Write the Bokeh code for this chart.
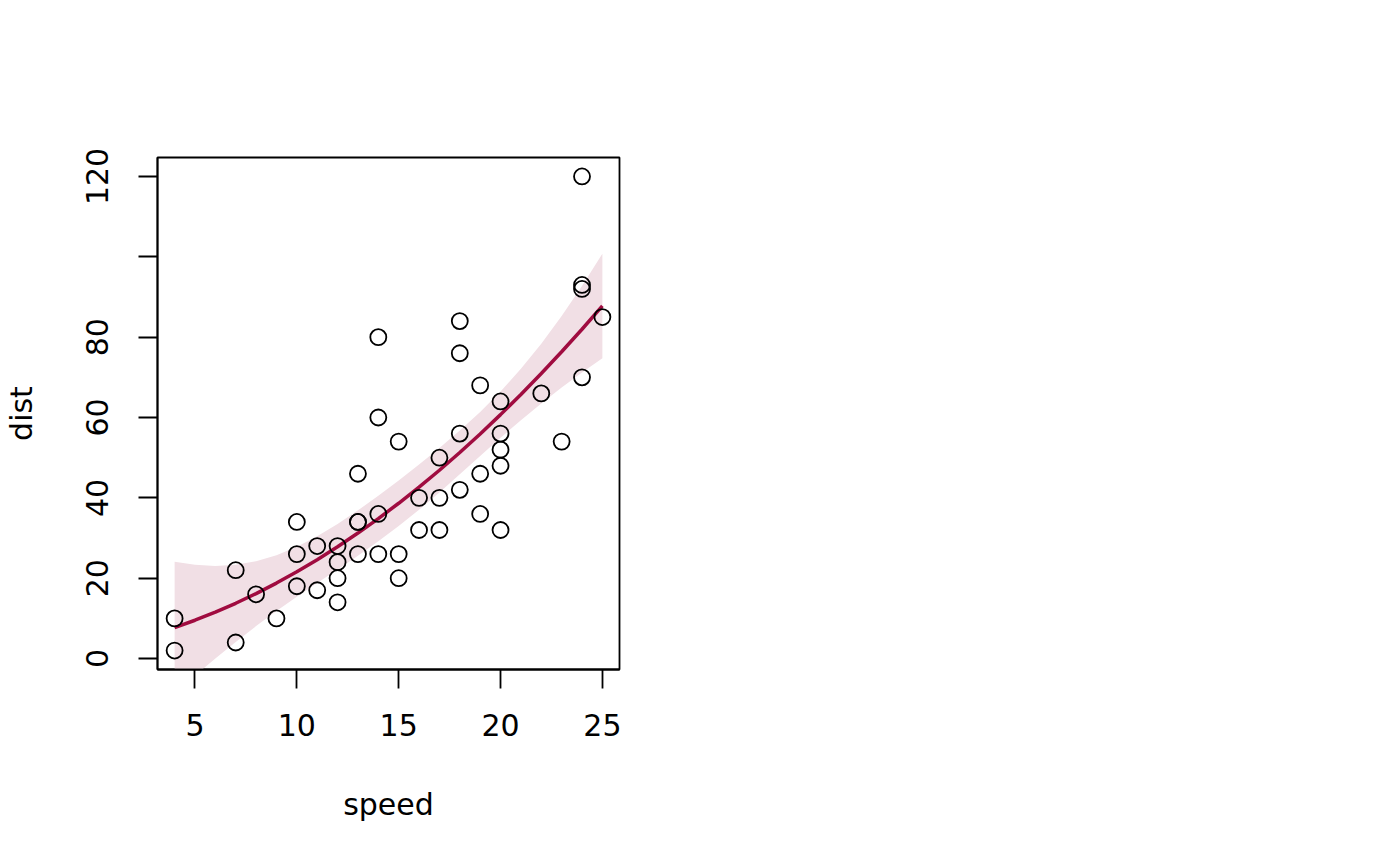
from bokeh.plotting import figure
from bokeh.models import Range1d, FixedTicker, ColumnDataSource
from bokeh.embed import file_html
from bokeh.resources import INLINE

# --- data (R "cars") ---
speed = [4, 4, 7, 7, 8, 9, 10, 10, 10, 11, 11, 12, 12, 12, 12, 13, 13, 13, 13,
         14, 14, 14, 14, 15, 15, 15, 16, 16, 17, 17, 17, 18, 18, 18, 18, 19, 19,
         19, 20, 20, 20, 20, 20, 22, 23, 24, 24, 24, 24, 25]
dist = [2, 10, 4, 22, 16, 10, 18, 26, 34, 17, 28, 14, 20, 24, 28, 26, 34, 34, 46,
        26, 36, 60, 80, 20, 26, 54, 32, 40, 32, 40, 50, 42, 56, 76, 84, 36, 46,
        68, 32, 48, 52, 56, 64, 66, 54, 70, 92, 93, 120, 85]

# fitted curve and confidence band
fit_x = [4, 5, 6, 7, 8, 9, 10, 11, 12, 13, 14, 15, 16, 17, 18, 19, 20, 21, 22, 23, 24, 25]
fit_y = [7.72, 9.54, 11.55, 13.76, 16.17, 18.79, 21.60, 24.61, 27.82, 31.24, 34.85,
         38.66, 42.67, 46.88, 51.30, 55.91, 60.72, 65.73, 70.94, 76.36, 81.97, 87.78]
fit_lo = [-8.67, -4.25, 0.03, 4.15, 8.09, 11.85, 15.39, 18.79, 22.15, 25.59, 29.18,
          33.00, 37.06, 41.36, 45.85, 50.42, 54.95, 59.33, 63.49, 67.45, 71.19, 74.78]
fit_hi = [24.11, 23.33, 23.07, 23.37, 24.25, 25.73, 27.81, 30.43, 33.49, 36.89, 40.52,
          44.32, 48.28, 52.40, 56.75, 61.40, 66.49, 72.13, 78.39, 85.27, 92.75, 100.78]

x_ticks = [5, 10, 15, 20, 25]
y_ticks = [0, 20, 40, 60, 80, 100, 120]
y_tick_labels = ["0", "20", "40", "60", "80", "", "120"]

FONT = "DejaVu Sans"
FS = "30px"

p = figure(frame_width=462, frame_height=512,
           min_border_left=156, min_border_top=157,
           min_border_right=300, min_border_bottom=180,
           x_range=Range1d(3.16, 25.84), y_range=Range1d(-2.72, 124.72),
           output_backend="svg", toolbar_location=None,
           background_fill_color="white", border_fill_color="white")
p.grid.visible = False
p.outline_line_color = "black"
p.outline_line_width = 1.8

band = ColumnDataSource(dict(x=fit_x, lo=fit_lo, hi=fit_hi, y=fit_y))
p.varea(x="x", y1="lo", y2="hi", source=band, fill_color="#F1DFE5")
p.line(x="x", y="y", source=band, line_color="#A00C40", line_width=3.5)
p.scatter(speed, dist, marker="circle", size=16, fill_color=None,
          line_color="black", line_width=1.8)

for ax in (p.xaxis[0], p.yaxis[0]):
    ax.major_tick_in = 0
    ax.major_tick_out = 19
    ax.minor_tick_line_color = None
    ax.major_tick_line_width = 1.8
    ax.axis_line_width = 1.8
    ax.axis_line_color = "black"
    ax.major_label_text_font = FONT
    ax.major_label_text_font_size = FS
    ax.major_label_text_color = "black"
    ax.axis_label_text_font = FONT
    ax.axis_label_text_font_size = FS
    ax.axis_label_text_font_style = "normal"
    ax.axis_label_text_color = "black"

p.xaxis.ticker = FixedTicker(ticks=x_ticks)
p.yaxis.ticker = FixedTicker(ticks=y_ticks)
p.yaxis.major_label_overrides = {t: l for t, l in zip(y_ticks, y_tick_labels)}
p.yaxis.major_label_orientation = "vertical"
p.xaxis.axis_label = "speed"
p.yaxis.axis_label = "dist"
p.xaxis.major_label_standoff = 25
p.yaxis.major_label_standoff = 30
p.xaxis.axis_label_standoff = 48
p.yaxis.axis_label_standoff = 45

open("out.html", "w").write(file_html(p, INLINE))
